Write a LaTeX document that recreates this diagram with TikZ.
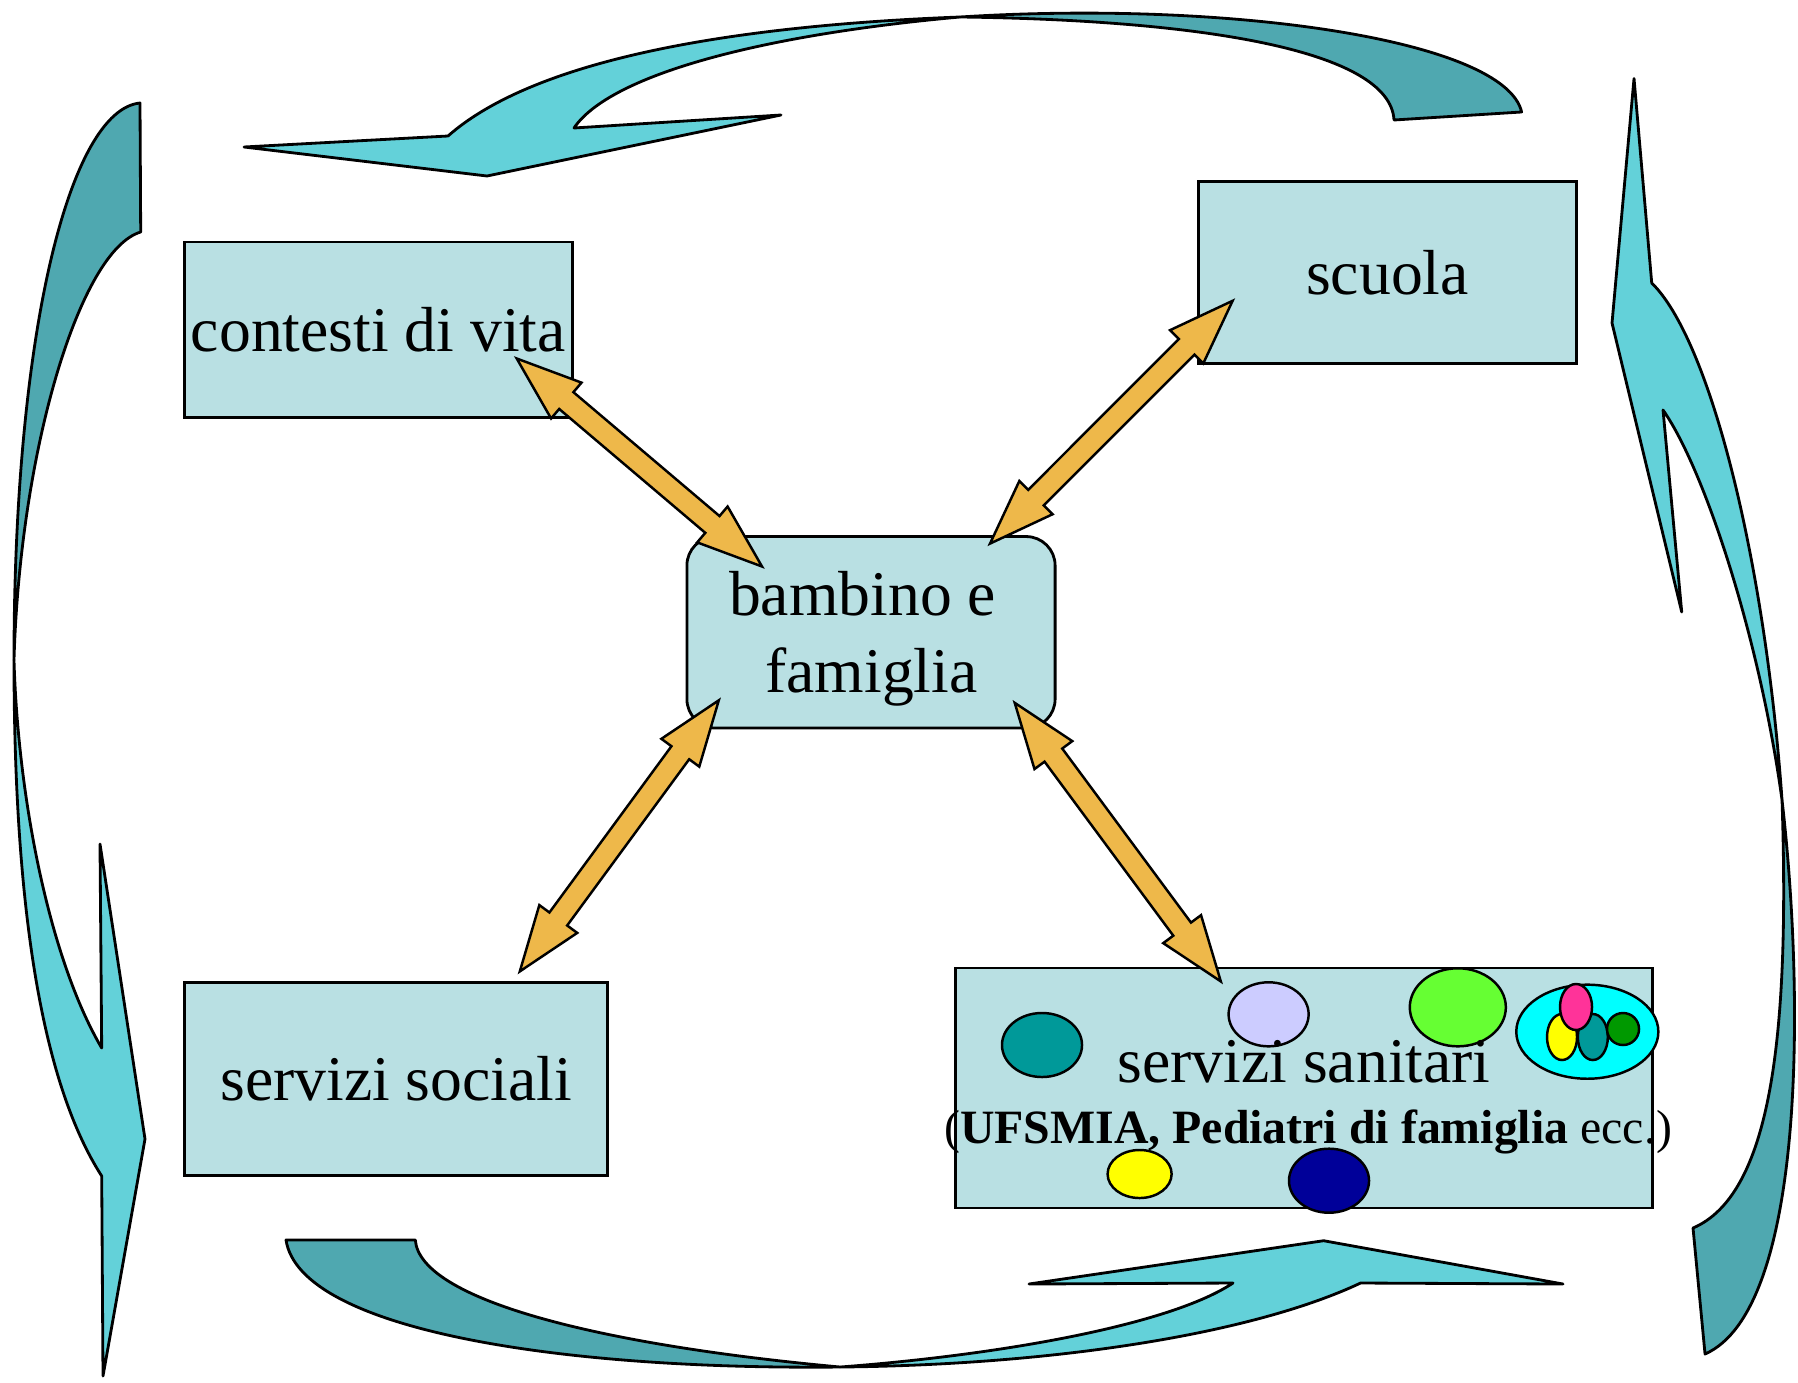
\documentclass[tikz,border=0pt]{standalone}
\usepackage{fontspec}
\setmainfont{Liberation Serif}
\usetikzlibrary{calc,shapes.geometric}
\definecolor{boxfill}{HTML}{B9E0E3}
\definecolor{lightcyan}{HTML}{63D1D9}
\definecolor{darkteal}{HTML}{4FA8B0}
\definecolor{orangefill}{HTML}{EEB84A}
\definecolor{cTeal}{HTML}{009999}
\definecolor{cLav}{HTML}{CCCCFF}
\definecolor{cLime}{HTML}{66FF33}
\definecolor{cCyan}{HTML}{00FFFF}
\definecolor{cYellow}{HTML}{FFFF00}
\definecolor{cPink}{HTML}{FF3399}
\definecolor{cGreen}{HTML}{009900}
\definecolor{cNavy}{HTML}{000099}
\newcommand\bigfont{\fontsize{18.1pt}{22.2pt}\selectfont}
\newcommand\smallfont{\fontsize{13.6pt}{16pt}\selectfont}
\tikzset{
  box/.style={draw=black, line width=0.8pt, fill=boxfill, inner sep=0pt, font=\bigfont},
  txt/.style={inner sep=0pt, anchor=base, font=\bigfont},
  band/.style={draw=black, line width=0.8pt, line join=round},
  lightband/.style={band, fill=lightcyan},
  darkband/.style={band, fill=darkteal},
  orangearrow/.style={draw=black, line width=0.7pt, fill=orangefill, line join=miter},
  blob/.style={ellipse, draw=black, line width=0.7pt, inner sep=0pt},
}
\newcommand\blockdbl[2]{%
  \coordinate (ha) at ($(#1)!0.65cm!(#2)$);
  \coordinate (hb) at ($(#2)!0.65cm!(#1)$);
  \draw[orangearrow] (#1) -- ($(ha)!0.235cm!90:(#2)$) -- ($(ha)!0.11cm!90:(#2)$)
    -- ($(hb)!0.11cm!-90:(#1)$) -- ($(hb)!0.235cm!-90:(#1)$) -- (#2)
    -- ($(hb)!0.235cm!90:(#1)$) -- ($(hb)!0.11cm!90:(#1)$)
    -- ($(ha)!0.11cm!-90:(#2)$) -- ($(ha)!0.235cm!-90:(#2)$) -- cycle;}
\begin{document}
\begin{tikzpicture}[x=0.01cm,y=-0.01cm]
\useasboundingbox (0,0) rectangle (1798,1382);

% ---------- top curved arrow ----------
\coordinate (xT) at (960,17);
\draw[darkband] (1521.6,112) .. controls (1505,40) and (1230,0) .. (xT)
  .. controls (1200,20) and (1390,50) .. (1394,120) -- cycle;
\draw[lightband] (xT) .. controls (750,25) and (540,55) .. (448,136)
  -- (244,147) -- (487,176) -- (781,115) -- (574,128)
  .. controls (610,75) and (760,35) .. (xT) -- cycle;

% ---------- left curved arrow ----------
\coordinate (xL) at (14,660);
\draw[darkband] (140,103) .. controls (70,110) and (14,330) .. (xL)
  .. controls (20,450) and (80,250) .. (140.7,232) -- cycle;
\draw[lightband] (xL) .. controls (14,900) and (40,1080) .. (101.7,1176)
  -- (103,1376) -- (145,1139) -- (100,844) -- (101.7,1048)
  .. controls (50,960) and (18,800) .. (xL) -- cycle;

% ---------- right curved arrow ----------
\coordinate (xR) at (1782,800);
\draw[darkband] (xR) .. controls (1805,1000) and (1805,1310) .. (1705,1354)
  -- (1693,1228) .. controls (1770,1195) and (1790,1040) .. (xR) -- cycle;
\draw[lightband] (1634,78.5) -- (1651.7,283)
  .. controls (1710,340) and (1765,560) .. (xR)
  .. controls (1760,640) and (1705,470) .. (1663,410)
  -- (1681.7,612) -- (1612,323) -- cycle;

% ---------- bottom curved arrow ----------
\coordinate (xB) at (840,1367);
\draw[darkband] (286,1240) -- (415.3,1240)
  .. controls (420,1300) and (600,1345) .. (xB)
  .. controls (560,1370) and (300,1330) .. (286,1240) -- cycle;
\draw[lightband] (xB) .. controls (1050,1365) and (1250,1335) .. (1360.6,1283)
  -- (1563,1284) -- (1323.6,1240.7) -- (1029,1284) -- (1233,1283)
  .. controls (1170,1325) and (1000,1355) .. (xB) -- cycle;

% ---------- boxes ----------
\node[box, minimum width=3.874cm, minimum height=1.754cm] (contesti) at (378.3,329.7) {contesti di vita};
\node[box, minimum width=3.784cm, minimum height=1.823cm] (scuola) at (1387.5,272.3) {scuola};
\node[box, rounded corners=0.29cm, minimum width=3.68cm, minimum height=1.914cm] (bambino) at (871,632.3) {};
\node[txt] (bamT1) at (862.5,615.7) {bambino e};
\node[txt] (bamT2) at (871.5,692.8) {famiglia};
\node[box, minimum width=4.231cm, minimum height=1.927cm] (sociali) at (396.2,1079) {servizi sociali};
\node[box, minimum width=6.96cm, minimum height=2.4cm] (sanitari) at (1304,1088) {};

% ---------- coloured ellipses ----------
\node[blob, fill=cTeal, minimum width=0.80cm, minimum height=0.64cm] (e1) at (1042,1045) {};
\node[blob, fill=cLav, minimum width=0.80cm, minimum height=0.64cm] (e2) at (1268.6,1014.3) {};
\node[blob, fill=cLime, minimum width=0.96cm, minimum height=0.78cm] (e3) at (1457.8,1007.3) {};
\node[blob, fill=cCyan, minimum width=1.42cm, minimum height=0.94cm] (e4) at (1587.3,1031.7) {};
\node[blob, fill=cYellow, minimum width=0.30cm, minimum height=0.46cm] (e5) at (1562,1037) {};
\node[blob, fill=cTeal, minimum width=0.30cm, minimum height=0.46cm] (e6) at (1592.8,1037) {};
\node[blob, fill=cGreen, minimum width=0.32cm, minimum height=0.32cm] (e7) at (1623,1029) {};
\node[blob, fill=cPink, minimum width=0.32cm, minimum height=0.46cm] (e8) at (1576,1007) {};
\node[blob, fill=cYellow, minimum width=0.64cm, minimum height=0.48cm] (e9) at (1139.6,1174) {};
\node[blob, fill=cNavy, minimum width=0.80cm, minimum height=0.64cm] (e10) at (1329,1180.7) {};

\node[txt] (sanT1) at (1304,1082) {servizi sanitari};
\node[txt, font=\smallfont] (sanT2) at (1308,1143) {(\textbf{UFSMIA, Pediatri di famiglia} ecc.)};

% ---------- orange double arrows ----------
\coordinate (pC) at (516.7,358.5);  \coordinate (pB1) at (762,566.5);
\coordinate (pS) at (1232.6,300.8); \coordinate (pB2) at (990,543.6);
\coordinate (pSo) at (519.8,971.4); \coordinate (pB3) at (718.8,700.3);
\coordinate (pSa) at (1220.8,981.4); \coordinate (pB4) at (1014.7,702.8);
\blockdbl{pC}{pB1}
\blockdbl{pS}{pB2}
\blockdbl{pSo}{pB3}
\blockdbl{pSa}{pB4}
\end{tikzpicture}
\end{document}
